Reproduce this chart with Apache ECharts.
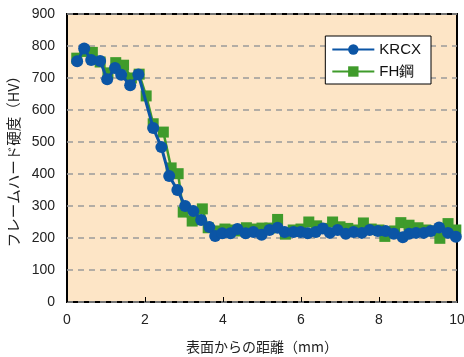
<!DOCTYPE html>
<html>
<head>
<meta charset="utf-8">
<script src="https://cdn.jsdelivr.net/npm/echarts@6/dist/echarts.min.js"></script>
<style>
  html, body { margin: 0; padding: 0; background: #ffffff; }
  #chart { width: 464px; height: 357px; }
</style>
</head>
<body>
<div id="chart"></div>
<script>
// Hardness profile: distance from surface (mm) vs. frame hardness (HV)
const krcxX = [0.26, 0.44, 0.62, 0.85, 1.03, 1.23, 1.39, 1.62, 1.83, 2.21, 2.42, 2.62, 2.83, 3.03, 3.24, 3.44, 3.65, 3.80,
  3.98, 4.19, 4.37, 4.58, 4.78, 4.99, 5.19, 5.40, 5.58, 5.81, 5.99, 6.17, 6.38, 6.56, 6.74, 6.94, 7.15, 7.35, 7.56,
  7.76, 7.97, 8.17, 8.38, 8.61, 8.77, 8.95, 9.15, 9.33, 9.54, 9.77, 9.97];
const krcxY = [752, 792, 756, 753, 696, 731, 710, 677, 711, 544, 484, 394, 350, 300, 284, 256, 234, 206,
  215, 215, 228, 215, 219, 210, 225, 232, 219, 219, 219, 215, 219, 230, 216, 225, 213, 219, 216,
  225, 222, 222, 213, 202, 213, 216, 216, 222, 233, 216, 204];

const fhX = [0.25, 0.45, 0.65, 0.85, 1.05, 1.25, 1.45, 1.65, 1.85, 2.03, 2.21, 2.47, 2.67, 2.85, 2.98, 3.21, 3.47, 3.62,
  3.85, 4.05, 4.25, 4.45, 4.6, 4.8, 5.0, 5.2, 5.4, 5.6, 5.8, 6.0, 6.2, 6.4, 6.6, 6.81, 7.0, 7.2, 7.4, 7.6, 7.8,
  8.0, 8.15, 8.4, 8.56, 8.77, 9.0, 9.2, 9.4, 9.56, 9.77, 9.97];
const fhY = [762, 783, 780, 750, 716, 748, 740, 700, 712, 644, 557, 531, 419, 401, 281, 253, 291, 232,
  222, 228, 225, 222, 232, 228, 231, 231, 258, 212, 225, 228, 250, 238, 230, 250, 235, 230, 225, 247, 228,
  225, 205, 222, 248, 240, 232, 225, 222, 199, 245, 225];

const xTicks = [0, 2, 4, 6, 8, 10];
const yTicks = [0, 100, 200, 300, 400, 500, 600, 700, 800, 900];

const pairs = (xs, ys) => xs.map((x, i) => [x, ys[i]]);

const blue = '#0b55a5';
const green = '#3f9b2b';
const font = '"Liberation Sans", Arial, sans-serif';
const cjk = '"Noto Sans CJK JP", sans-serif';

const chart = echarts.init(document.getElementById('chart'), null, { renderer: 'canvas' });
chart.setOption({
  animation: false,
  backgroundColor: '#ffffff',
  grid: {
    left: 67, right: 7, top: 14, bottom: 55,
    outerBoundsMode: 'none',
    show: true, backgroundColor: '#fde5c6', borderColor: '#000', borderWidth: 2
  },
  xAxis: {
    type: 'value', min: xTicks[0], max: xTicks[xTicks.length - 1], interval: 2,
    name: '表面からの距離（mm）', nameLocation: 'middle', nameGap: 38,
    nameTextStyle: { fontFamily: cjk, fontSize: 14, color: '#222' },
    axisLine: { show: false },
    axisTick: { show: true, inside: true, length: 5, lineStyle: { color: '#000', width: 1 } },
    axisLabel: { fontFamily: font, fontSize: 14, color: '#222', margin: 11 },
    splitLine: { show: false }
  },
  yAxis: {
    type: 'value', min: yTicks[0], max: yTicks[yTicks.length - 1], interval: 100,
    name: 'フレームハード硬度（HV）', nameLocation: 'middle', nameGap: 43,
    nameTextStyle: { fontFamily: cjk, fontSize: 14.5, color: '#222' },
    axisLine: { show: false },
    axisTick: { show: false },
    axisLabel: { fontFamily: font, fontSize: 14, color: '#222', margin: 12 },
    splitLine: { show: true, lineStyle: { color: '#9a9a9a', type: [6, 5], width: 1.5 } }
  },
  legend: {
    data: ['KRCX', 'FH鋼'],
    orient: 'vertical',
    right: 33, top: 36,
    backgroundColor: '#ffffff',
    borderColor: '#000', borderWidth: 1, borderRadius: 0,
    padding: [6, 10, 5, 6],
    itemGap: 7,
    itemWidth: 42, itemHeight: 13,
    textStyle: { fontFamily: font, fontSize: 15, color: '#111' }
  },
  series: [
    {
      name: 'FH鋼', type: 'line', data: pairs(fhX, fhY),
      symbol: 'rect', symbolSize: 11,
      itemStyle: { color: green },
      lineStyle: { color: green, width: 2.5 },
      z: 2
    },
    {
      name: 'KRCX', type: 'line', data: pairs(krcxX, krcxY),
      symbol: 'circle', symbolSize: 12,
      itemStyle: { color: blue },
      lineStyle: { color: blue, width: 3 },
      z: 3
    }
  ]
});
</script>
</body>
</html>
